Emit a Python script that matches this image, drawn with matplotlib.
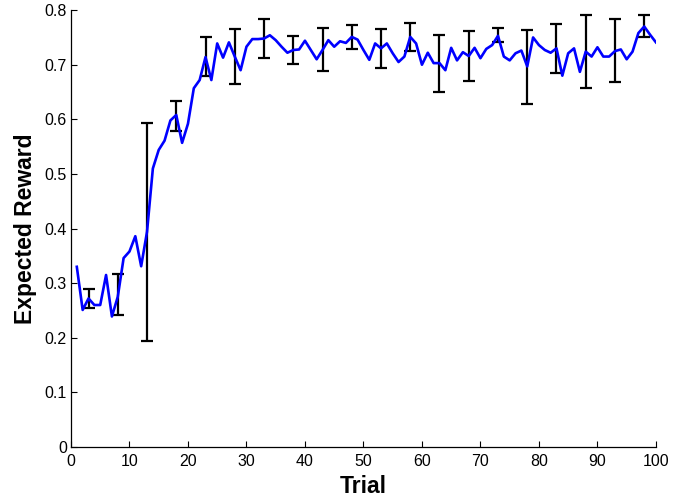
import numpy as np
import matplotlib
matplotlib.use("Agg")
import matplotlib.pyplot as plt

plt.rcParams['font.family'] = ['Liberation Sans', 'DejaVu Sans']

trials = list(range(1, 101))
reward = [
    0.330, 0.251, 0.272, 0.260, 0.260, 0.315, 0.239, 0.275, 0.346, 0.358,
    0.386, 0.331, 0.394, 0.510, 0.544, 0.561, 0.598, 0.608, 0.557, 0.592,
    0.657, 0.672, 0.714, 0.672, 0.739, 0.713, 0.741, 0.715, 0.690, 0.733,
    0.747, 0.747, 0.748, 0.754, 0.745, 0.733, 0.722, 0.727, 0.728, 0.744,
    0.727, 0.710, 0.727, 0.745, 0.733, 0.743, 0.740, 0.751, 0.746, 0.727,
    0.709, 0.739, 0.730, 0.739, 0.721, 0.705, 0.715, 0.751, 0.739, 0.700,
    0.722, 0.703, 0.703, 0.690, 0.731, 0.708, 0.723, 0.716, 0.731, 0.712,
    0.729, 0.736, 0.753, 0.715, 0.708, 0.721, 0.726, 0.697, 0.750, 0.736,
    0.727, 0.722, 0.730, 0.680, 0.721, 0.730, 0.687, 0.724, 0.715, 0.732,
    0.715, 0.715, 0.725, 0.728, 0.710, 0.724, 0.758, 0.770, 0.755, 0.741,
]

err_trials = [3, 8, 13, 18, 23, 28, 33, 38, 43, 48, 53, 58, 63, 68, 73, 78, 83, 88, 93, 98]
err_means = [0.272, 0.279, 0.394, 0.606, 0.715, 0.715, 0.748, 0.727, 0.728, 0.751,
             0.730, 0.751, 0.703, 0.716, 0.754, 0.696, 0.730, 0.725, 0.726, 0.771]
err_sizes = [0.017, 0.038, 0.200, 0.028, 0.035, 0.050, 0.035, 0.025, 0.039, 0.022,
             0.036, 0.025, 0.052, 0.045, 0.013, 0.068, 0.045, 0.067, 0.057, 0.021]

xticks = list(range(0, 101, 10))
yticks = [0, 0.1, 0.2, 0.3, 0.4, 0.5, 0.6, 0.7, 0.8]
ytick_labels = ['0', '0.1', '0.2', '0.3', '0.4', '0.5', '0.6', '0.7', '0.8']

fig = plt.figure(figsize=(6.89, 4.97), dpi=100)
ax = fig.add_axes([0.103, 0.1006, 0.849, 0.879])

ax.plot(trials, reward, color='#0000ff', lw=1.9, zorder=3)
ax.errorbar(err_trials, err_means, yerr=err_sizes, fmt='none', ecolor='black',
            elinewidth=1.6, capsize=4.5, capthick=1.6, zorder=2)

ax.set_xlim(0, 100)
ax.set_ylim(0, 0.8)
ax.set_xticks(xticks)
ax.set_yticks(yticks)
ax.set_yticklabels(ytick_labels)
ax.spines['top'].set_visible(False)
ax.spines['right'].set_visible(False)
for s in ('left', 'bottom'):
    ax.spines[s].set_linewidth(0.9)
    ax.spines[s].set_color('black')
ax.tick_params(direction='in', length=4, width=0.8, labelsize=11.5, pad=3)
ax.tick_params(axis='x', pad=5)

ax.set_xlabel('Trial', fontsize=16.5, fontweight='bold')
ax.set_ylabel('Expected Reward', fontsize=16.5, fontweight='bold')
ax.xaxis.set_label_coords(0.5, -0.064)
ax.yaxis.set_label_coords(-0.058, 0.5)

fig.savefig('out.png', dpi=100)
